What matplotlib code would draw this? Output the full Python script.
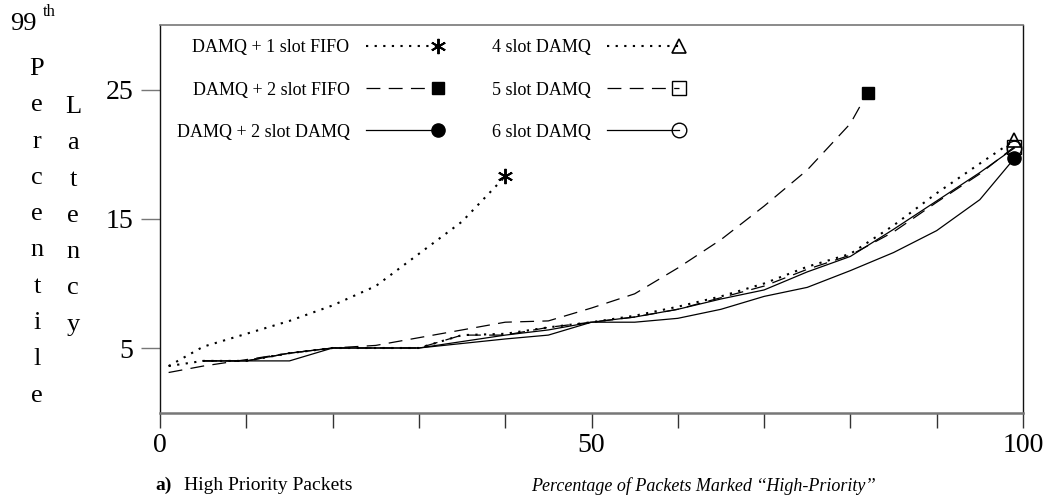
import numpy as np
import matplotlib
matplotlib.use("Agg")
import matplotlib.pyplot as plt
from matplotlib.lines import Line2D
from matplotlib.legend_handler import HandlerBase

plt.rcParams['font.family'] = ['Liberation Serif', 'DejaVu Serif']
plt.rcParams['lines.scale_dashes'] = False

# Percentage of packets marked high-priority
x_fifo1 = [1, 5, 10, 15, 20, 25, 30, 35, 40]
x_fifo2 = [1, 5, 10, 15, 20, 25, 30, 35, 40, 45, 50, 55, 60, 65, 70, 75, 80, 82]
x_damq2 = [5, 10, 15, 20, 25, 30, 35, 40, 45, 50, 55, 60, 65, 70, 75, 80, 85, 90, 95, 99]
x_damq4 = [1, 5, 10, 15, 20, 25, 30, 35, 40, 45, 50, 55, 60, 65, 70, 75, 80, 85, 90, 95, 99]
x_damq5 = [5, 10, 15, 20, 25, 30, 35, 40, 45, 50, 55, 60, 65, 70, 75, 80, 85, 90, 95, 99]
x_damq6 = [5, 10, 15, 20, 25, 30, 35, 40, 45, 50, 55, 60, 65, 70, 75, 80, 85, 90, 95, 99]

# 99th percentile latency of high-priority packets
y_fifo1 = [3.6, 5.1, 6.1, 7.1, 8.3, 9.8, 12.3, 14.8, 18.3]
y_fifo2 = [3.1, 3.6, 4.1, 4.6, 5.0, 5.2, 5.8, 6.4, 7.0, 7.1, 8.1, 9.2, 11.2, 13.4,
           16.0, 18.8, 22.4, 24.8]
y_damq2 = [4.0, 4.0, 4.0, 5.0, 5.0, 5.0, 5.35, 5.7, 6.0, 7.0, 7.0, 7.3, 8.0, 9.0,
           9.7, 11.0, 12.4, 14.1, 16.5, 19.7]
y_damq4 = [3.6, 4.0, 4.0, 4.6, 5.0, 5.0, 5.0, 6.0, 6.1, 6.6, 7.0, 7.5, 8.2, 9.0,
           10.0, 11.3, 12.3, 14.5, 17.0, 19.3, 21.1]
y_damq5 = [4.0, 4.0, 4.6, 5.0, 5.0, 5.0, 6.0, 6.0, 6.6, 7.0, 7.4, 8.0, 8.9, 9.8,
           11.1, 12.2, 14.0, 16.3, 18.5, 20.6]
y_damq6 = [4.0, 4.0, 4.6, 5.0, 5.0, 5.0, 5.5, 6.0, 6.4, 7.0, 7.4, 8.0, 8.8, 9.5,
           10.9, 12.1, 14.2, 16.4, 18.6, 20.5]

labels = ['DAMQ + 1 slot FIFO', 'DAMQ + 2 slot FIFO', 'DAMQ + 2 slot DAMQ',
          '4 slot DAMQ', '5 slot DAMQ', '6 slot DAMQ']

x_ticks = list(range(0, 101, 10))
x_ticklabels = ['0', '', '', '', '', '50', '', '', '', '', '100']
y_ticks = [5, 15, 25]

DOT = (0, (1.6, 4.6))
DASH = (0, (10, 6))
asterisk = (6, 2, 0)

styles = [
    dict(ls=DOT, lw=1.5, marker=asterisk, ms=11, mew=1.4, mfc='black'),
    dict(ls=DASH, lw=0.9, marker='s', ms=8.5, mfc='black'),
    dict(ls='-', lw=0.9, marker='o', ms=9.5, mfc='black'),
    dict(ls=DOT, lw=1.5, marker='^', ms=9.5, mew=1.2, fillstyle='none'),
    dict(ls=DASH, lw=0.9, marker='s', ms=9.5, mew=1.0, fillstyle='none'),
    dict(ls='-', lw=0.9, marker='o', ms=10.5, mew=1.0, fillstyle='none'),
]

fig = plt.figure(figsize=(10.52, 5.04), dpi=100)
W, H = 1052, 504
ax = fig.add_axes([160 / W, (H - 412.5) / H, 863 / W, 387 / H])

series = [(x_fifo1, y_fifo1), (x_fifo2, y_fifo2), (x_damq2, y_damq2),
          (x_damq4, y_damq4), (x_damq5, y_damq5), (x_damq6, y_damq6)]

handles = []
for (xs, ys), st, lab in zip(series, styles, labels):
    ln, = ax.plot(xs, ys, color='black', linestyle=st['ls'], linewidth=st['lw'],
                  marker=st['marker'], markersize=st['ms'],
                  markeredgewidth=st.get('mew', 1.0),
                  markerfacecolor=st.get('mfc', 'none'),
                  markeredgecolor='black',
                  fillstyle=st.get('fillstyle', 'full'),
                  markevery=[len(xs) - 1], label=lab, clip_on=False)
    handles.append(ln)


class LineThenMarker(HandlerBase):
    """Legend key: the line sample with the marker at its right end."""

    def create_artists(self, legend, orig, xdescent, ydescent, width, height,
                       fontsize, trans):
        y = height / 2 - ydescent
        x0, x1 = -xdescent, width - xdescent
        seg = Line2D([x0, x1], [y, y])
        seg.update_from(orig)
        seg.set_marker('None')
        seg.set_transform(trans)
        mk = Line2D([x1], [y])
        mk.update_from(orig)
        mk.set_linestyle('None')
        mk.set_markevery(None)
        mk.set_transform(trans)
        return [seg, mk]


leg = ax.legend(handles=handles, labels=labels, ncol=2, markerfirst=False,
                frameon=False, fontsize=13, handlelength=4.0,
                handletextpad=0.9, columnspacing=3.0, labelspacing=1.4,
                borderpad=0, loc='center',
                bbox_to_anchor=(428 / W, 1 - 90 / H),
                bbox_transform=fig.transFigure,
                handler_map={Line2D: LineThenMarker()})

ax.set_xlim(0, 100)
ax.set_ylim(0, 30)
ax.set_xticks(x_ticks)
ax.set_xticklabels(x_ticklabels)
ax.set_yticks(y_ticks)
ax.set_yticklabels([str(v) for v in y_ticks])
ax.tick_params(axis='x', direction='out', length=11, width=1.0,
               color='#333333', labelsize=20, pad=4)
ax.tick_params(axis='y', direction='out', length=14, width=1.0,
               color='#777777', labelsize=20, pad=5)

for side in ('left', 'right'):
    ax.spines[side].set_color('#111111')
    ax.spines[side].set_linewidth(1.0)
ax.spines['top'].set_color('#777777')
ax.spines['top'].set_linewidth(1.2)
ax.spines['bottom'].set_color('#777777')
ax.spines['bottom'].set_linewidth(1.8)

# Stacked axis title
fig.text(10 / W, 1 - 24 / H, '99', fontsize=19, ha='left', va='center')
fig.text(43 / W, 1 - 12 / H, 'th', fontsize=12, ha='left', va='center')
fig.text(37 / W, 1 - 58 / H, '\n'.join('Percentile'), fontsize=19,
         ha='center', va='top', linespacing=1.84)
fig.text(73 / W, 1 - 96 / H, '\n'.join('Latency'), fontsize=19,
         ha='center', va='top', linespacing=1.84)

fig.text(155 / W, 1 - 485 / H, 'a)', fontsize=14, fontweight='bold',
         ha='left', va='center')
fig.text(184 / W, 1 - 485 / H, 'High Priority Packets', fontsize=14,
         ha='left', va='center')
fig.text(703 / W, 1 - 486 / H, "Percentage of Packets Marked \u2018\u2018High-Priority\u2019\u2019",
         fontsize=13, fontstyle='italic', ha='center', va='center')

fig.savefig('out.png', dpi=100)
